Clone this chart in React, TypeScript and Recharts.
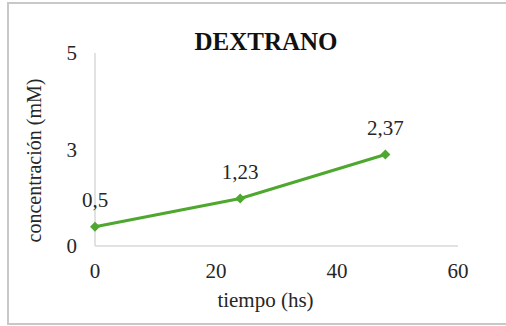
import React from 'react';
import {
  LineChart,
  Line,
  XAxis,
  YAxis,
  Label,
  LabelList
} from 'recharts';

const tiempo = [0, 24, 48];
const concentracion = [0.5, 1.23, 2.37];
const xTicks = [0, 20, 40, 60];
const yTicks = [0, 2.5, 5];

const data = tiempo.map((t, i) => ({ t, c: concentracion[i] }));

const SERIF = '"Liberation Serif", "Times New Roman", serif';
const GREEN = '#4ea72e';
const AXIS = '#d9d9d9';
const TEXT = '#262626';
const FS = 21;

const comma = (v: number) => String(v).replace('.', ',');

function Diamond(props: any) {
  const { cx, cy } = props;
  if (cx == null || cy == null) return null;
  const r = 5;
  return (
    <path
      d={`M${cx},${cy - r}L${cx + r},${cy}L${cx},${cy + r}L${cx - r},${cy}Z`}
      fill={GREEN}
    />
  );
}

function PointLabel(props: any) {
  const { x, y, value } = props;
  return (
    <text
      x={x}
      y={y - 20}
      textAnchor="middle"
      fontFamily={SERIF}
      fontSize={FS}
      fill={TEXT}
    >
      {comma(value)}
    </text>
  );
}

export default function App(): React.ReactElement {
  return (
    <div
      style={{
        position: 'absolute',
        left: 0,
        top: 0,
        width: 506,
        height: 326,
        overflow: 'hidden',
        background: '#fff'
      }}
    >
      <div
        style={{
          position: 'absolute',
          left: 7,
          top: 2,
          width: 520,
          height: 323,
          border: '2px solid #c8c8c8',
          boxSizing: 'border-box'
        }}
      />
      <div
        style={{
          position: 'absolute',
          left: 166,
          top: 30,
          width: 200,
          textAlign: 'center',
          fontFamily: SERIF,
          fontWeight: 'bold',
          fontSize: 25,
          lineHeight: '24px',
          color: '#111'
        }}
      >
        DEXTRANO
      </div>
      <LineChart
        width={506}
        height={326}
        data={data}
        margin={{ top: 53, right: 48, bottom: 0, left: 0 }}
        style={{ position: 'absolute', left: 0, top: 0 }}
      >
        <XAxis
          type="number"
          dataKey="t"
          domain={[0, 60]}
          ticks={xTicks}
          height={80}
          axisLine={{ stroke: AXIS, strokeWidth: 1.5 }}
          tickLine={false}
          tickMargin={11}
          tick={{ fill: TEXT, fontFamily: SERIF, fontSize: FS }}
        >
          <Label
            content={({ viewBox }: any) => (
              <text
                x={viewBox.x + viewBox.width / 2 - 11}
                y={viewBox.y + 61}
                textAnchor="middle"
                fontFamily={SERIF}
                fontSize={FS}
                fill={TEXT}
              >
                tiempo (hs)
              </text>
            )}
          />
        </XAxis>
        <YAxis
          type="number"
          domain={[0, 5]}
          ticks={yTicks}
          width={95}
          axisLine={{ stroke: AXIS, strokeWidth: 1.5 }}
          tickLine={false}
          tickMargin={12}
          tickFormatter={(v: number) => String(Math.round(v))}
          tick={{ fill: TEXT, fontFamily: SERIF, fontSize: FS }}
        >
          <Label
            content={({ viewBox }: any) => {
              const x = viewBox.x + 41;
              const y = viewBox.y + viewBox.height / 2 + 11;
              return (
                <text
                  x={x}
                  y={y}
                  transform={`rotate(-90 ${x} ${y})`}
                  textAnchor="middle"
                  fontFamily={SERIF}
                  fontSize={20}
                  fill={TEXT}
                >
                  concentración (mM)
                </text>
              );
            }}
          />
        </YAxis>
        <Line
          dataKey="c"
          stroke={GREEN}
          strokeWidth={3}
          dot={<Diamond />}
          activeDot={false}
          isAnimationActive={false}
        >
          <LabelList dataKey="c" content={<PointLabel />} />
        </Line>
      </LineChart>
    </div>
  );
}
